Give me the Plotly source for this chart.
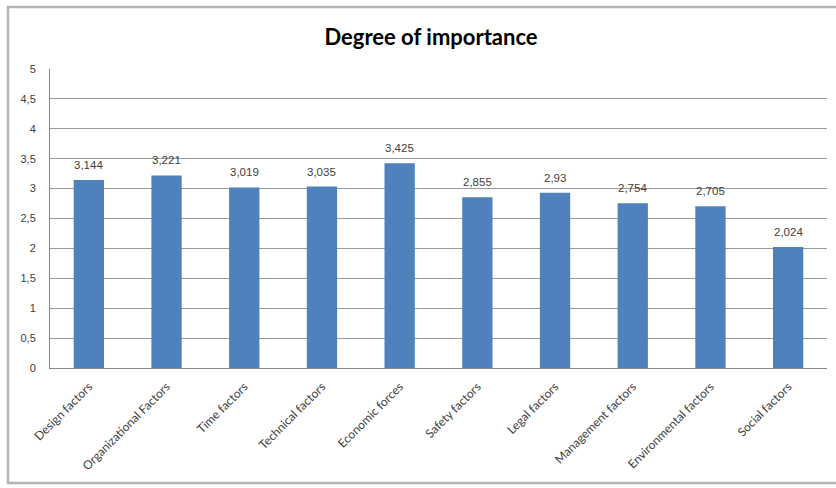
import plotly.graph_objects as go

categories = ["Design factors", "Organizational Factors", "Time factors", "Technical factors",
              "Economic forces", "Safety factors", "Legal factors", "Management factors",
              "Environmental factors", "Social factors"]
values = [3.144, 3.221, 3.019, 3.035, 3.425, 2.855, 2.93, 2.754, 2.705, 2.024]
y_ticks = [0, 0.5, 1, 1.5, 2, 2.5, 3, 3.5, 4, 4.5, 5]
y_tick_labels = ["0", "0,5", "1", "1,5", "2", "2,5", "3", "3,5", "4", "4,5", "5"]

labels = [str(v).replace(".", ",") for v in values]

W, H = 836, 488
L, R, T, B = 50, 9, 69, 120
pw, ph = W - L - R, H - T - B

def px(x):
    return (x - L) / pw

def py(y):
    return (H - B - y) / ph

fig = go.Figure(go.Bar(
    x=categories, y=values,
    marker=dict(color="#4F81BD", line=dict(width=0)),
))

for c, v, t in zip(categories, values, labels):
    fig.add_annotation(x=c, y=v, text=t, showarrow=False, yanchor="bottom", yshift=7,
                       font=dict(family="Liberation Sans, Arial", size=11.5, color="#404040"))

fig.update_layout(
    width=W, height=H,
    margin=dict(l=L, r=R, t=T, b=B),
    paper_bgcolor="white", plot_bgcolor="white",
    bargap=0.61,
    showlegend=False,
    title=dict(text="<b>Degree of importance</b>", x=431 / W, xanchor="center",
               y=1 - 37 / H, yanchor="middle",
               font=dict(family="Lato, Carlito, Calibri", size=22, color="black")),
    xaxis=dict(tickangle=-45, tickfont=dict(family="Lato, Carlito, Calibri", size=12, color="#404040"),
               showline=True, linecolor="#868686", linewidth=1, showgrid=False, ticks="",
               ticklabelstandoff=6),
    yaxis=dict(range=[0, 5], tickvals=y_ticks, ticktext=y_tick_labels,
               tickfont=dict(family="Liberation Sans, Arial", size=11, color="#404040"),
               showgrid=True, gridcolor="#9a9a9a", gridwidth=1,
               showline=True, linecolor="#868686", linewidth=1, ticks="",
               ticklabelstandoff=11, zeroline=False),
    shapes=[dict(type="rect", xref="paper", yref="paper",
                 x0=px(8), x1=px(860), y0=py(7), y1=py(483),
                 line=dict(color="#B4B4B4", width=2.5), layer="below")],
)

fig.write_html("out.html")
